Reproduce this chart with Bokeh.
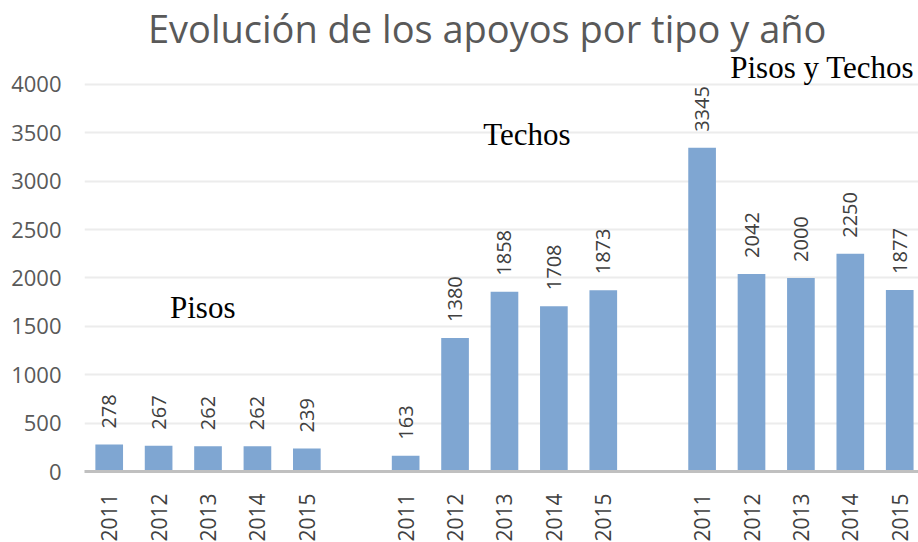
import math
from bokeh.plotting import figure
from bokeh.models import ColumnDataSource, Label, FixedTicker, Range1d
from bokeh.core.properties import value
from bokeh.embed import file_html
from bokeh.resources import INLINE

# ---- data ----
title_text = "Evolución de los apoyos por tipo y año"
years = ["2011", "2012", "2013", "2014", "2015"]
group_names = ["Pisos", "Techos", "Pisos y Techos"]
pisos = [278, 267, 262, 262, 239]
techos = [163, 1380, 1858, 1708, 1873]
pisos_techos = [3345, 2042, 2000, 2250, 1877]
y_ticks = [0, 500, 1000, 1500, 2000, 2500, 3000, 3500, 4000]
series = [pisos, techos, pisos_techos]

# ---- build positions (one empty slot between groups) ----
xs, vals, labels = [], [], []
for g, vals_g in enumerate(series):
    for i, v in enumerate(vals_g):
        xs.append(g * (len(years) + 1) + i)
        vals.append(v)
        labels.append(str(v))
src = ColumnDataSource(dict(x=xs, top=vals, lab=labels))

BAR = "#7fa6d2"
TXT = "#404040"

p = figure(frame_width=834, frame_height=471, output_backend="svg", toolbar_location=None,
           x_range=Range1d(-0.5, 16.38), y_range=Range1d(0, 4868),
           min_border_left=84, min_border_right=0, min_border_top=0, min_border_bottom=71)
p.outline_line_color = None

p.vbar(x="x", top="top", width=0.56, source=src, fill_color=BAR, line_color=None)

p.text(x="x", y="top", text="lab", source=src, angle=math.pi / 2, y_offset=-16,
       text_align="left", text_baseline="middle", text_font=value("Open Sans"),
       text_font_size="20px", text_color=TXT)

# x axis
p.xaxis.ticker = FixedTicker(ticks=xs)
p.xaxis.major_label_overrides = {x: years[k % len(years)] for k, x in enumerate(xs)}
p.xaxis.major_label_orientation = math.pi / 2
p.xaxis.major_label_text_font = "Open Sans"
p.xaxis.major_label_text_font_size = "21px"
p.xaxis.major_label_text_color = TXT
p.xaxis.major_label_standoff = 16
p.xaxis.major_tick_line_color = None
p.xaxis.minor_tick_line_color = None
p.xaxis.axis_line_color = "#c0c0c0"
p.xaxis.axis_line_width = 3

# y axis
p.yaxis.ticker = FixedTicker(ticks=y_ticks)
p.yaxis.major_label_text_font = "Open Sans"
p.yaxis.major_label_text_font_size = "22px"
p.yaxis.major_label_text_color = "#595959"
p.yaxis.major_label_standoff = 17
p.yaxis.axis_line_color = None
p.yaxis.major_tick_line_color = None
p.yaxis.minor_tick_line_color = None

p.xgrid.grid_line_color = None
p.ygrid.grid_line_color = "#ececec"
p.ygrid.grid_line_width = 2

# title (drawn as a label so its position is exact)
p.add_layout(Label(x=7.65, y=4585, text=title_text, text_font="Open Sans",
                   text_font_size="38px", text_color="#595959",
                   text_align="center", text_baseline="alphabetic"))

# group labels
label_pos = [(1.23, 1691), (7.57, 3480), (12.57, 4172)]
for name, (lx, ly) in zip(group_names, label_pos):
    p.add_layout(Label(x=lx, y=ly, text=name, text_font="Liberation Serif",
                       text_font_size="31px", text_color="#000000",
                       text_align="left", text_baseline="alphabetic"))

open("out.html", "w").write(file_html(p, INLINE))
